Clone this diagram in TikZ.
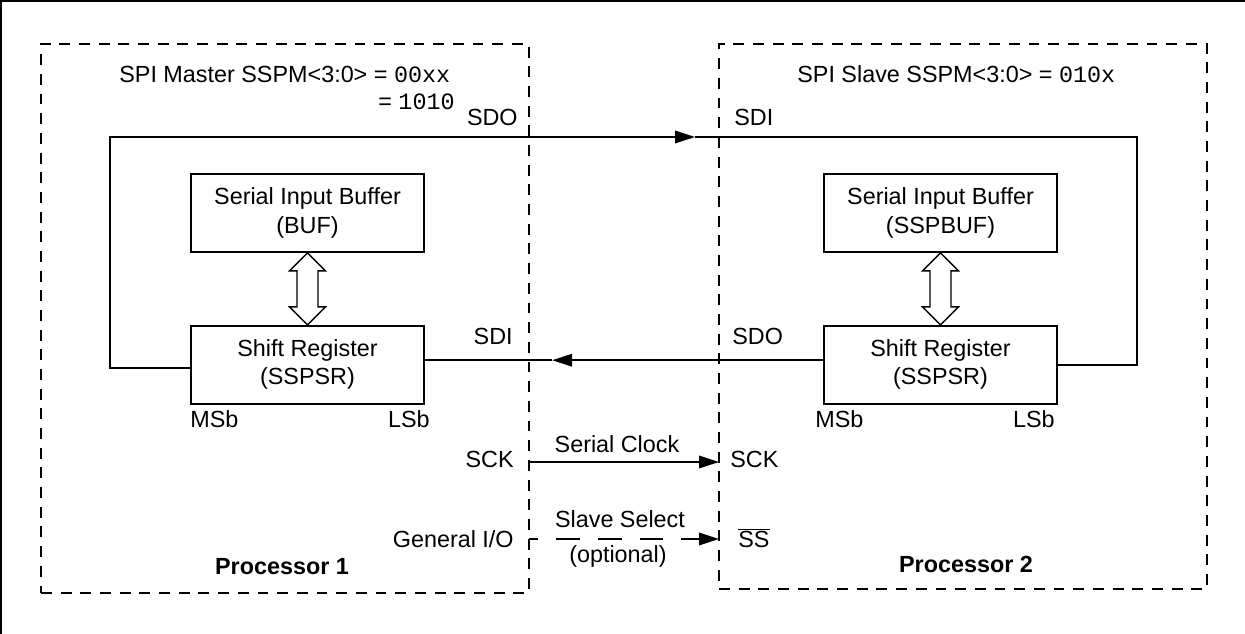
\documentclass[tikz,border=0pt]{standalone}
\usepackage{fontspec}
\setmainfont{Liberation Sans}
\setmonofont{Liberation Mono}
\usetikzlibrary{arrows.meta, positioning}

\begin{document}
\begin{tikzpicture}[
  x=0.02cm, y=-0.02cm,
  font=\fontsize{13.3}{16}\selectfont,
  box/.style={draw, line width=1pt, minimum width=4.66cm,
              minimum height=1.56cm, inner sep=0pt, align=center},
  proc/.style={draw, line width=1pt, dash pattern=on 6.2pt off 5pt,
               minimum width=9.76cm, inner sep=0pt},
  lbl/.style={inner sep=0pt},
  wire/.style={line width=1pt},
  arr/.style={line width=1pt, -{Triangle[length=0.4cm, width=0.25cm]}},
  dblarr/.style={line width=0.8pt, fill=white}
]
\useasboundingbox (0,0) rectangle (1245,634);
\draw[line width=2.5pt] (0,634) -- (0,0) -- (1245,0);

% processor frames
\node[proc, minimum height=10.98cm] (proc1) at (285,318.5) {};
\node[proc, minimum height=10.9cm]  (proc2) at (963,316.5) {};

% blocks
\node[box] (buf1) at (307.5,213) {Serial Input Buffer\\(BUF)};
\node[box, below=1.44cm of buf1] (sr1) {Shift Register\\(SSPSR)};
\node[box] (buf2) at (940.5,213) {Serial Input Buffer\\(SSPBUF)};
\node[box, below=1.44cm of buf2] (sr2) {Shift Register\\(SSPSR)};

\foreach \u/\v in {buf1/sr1, buf2/sr2}
  \draw[dblarr] (\u.south) -- ++(18,18) -- ++(-7.5,0) -- ++(0,36) -- ++(7.5,0)
    -- (\v.north) -- ++(-18,-18) -- ++(7.5,0) -- ++(0,-36) -- ++(-7.5,0) -- cycle;

% labels
\node[lbl, anchor=base west] (mtitle) at (119,83) {SPI Master SSPM<3:0> = \texttt{00xx}};
\node[lbl, anchor=base west] (mtitle2) at (378,110) {= \texttt{1010}};
\node[lbl, anchor=base west] (stitle) at (797,83) {SPI Slave SSPM<3:0> = \texttt{010x}};
\node[lbl, anchor=base east] (sdo1) at (518,126) {SDO};
\node[lbl, anchor=base west] (sdi2) at (734,126) {SDI};
\node[lbl, anchor=base east] (sdi1) at (513,345) {SDI};
\node[lbl, anchor=base west] (sdo2) at (732,345) {SDO};
\node[lbl, anchor=base west] (msb1) at (190,428) {MSb};
\node[lbl, anchor=base east] (lsb1) at (430,428) {LSb};
\node[lbl, anchor=base west] (msb2) at (815,428) {MSb};
\node[lbl, anchor=base east] (lsb2) at (1055,428) {LSb};
\node[lbl, anchor=base east] (sck1) at (514,468) {SCK};
\node[lbl, anchor=base west] (sck2) at (730,468) {SCK};
\node[lbl, anchor=base] (clk) at (617,453) {Serial Clock};
\node[lbl, anchor=base east] (gio) at (514,548) {General I/O};
\node[lbl, anchor=base] (sel) at (620,528) {Slave Select};
\node[lbl, anchor=base] (opt) at (618,563) {(optional)};
\node[lbl, anchor=base west] (ss2) at (738,548) {$\overline{\mbox{SS}}$};
\node[lbl, anchor=base] (p1) at (282,575) {\textbf{Processor 1}};
\node[lbl, anchor=base] (p2) at (966,573) {\textbf{Processor 2}};

% connections
\coordinate (loopL) at (110,137);
\coordinate (loopR) at (1137,137);
\coordinate (sdoTip) at (695,137);
\path ([yshift=0.09cm]sr2.west) ++(-271,0) coordinate (sdiTip);
\draw[arr] ([yshift=-0.06cm]sr1.west) -| (loopL) -- (sdoTip);
\draw[wire] (sdoTip) -- (loopR) |- (sr2.east);
\draw[arr] ([yshift=0.09cm]sr2.west) -- (sdiTip);
\draw[wire] (sdiTip) -- (sdiTip -| sr1.east);

\coordinate (sckM) at (529,462);
\coordinate (sckS) at (719,462);
\coordinate (ssM) at (529,539);
\coordinate (ssS) at (719,539);
\draw[arr] (sckM) -- (sckS);
\draw[arr, dash pattern=on 13.6pt off 10.2pt, dash phase=8.5pt] (ssM) -- (ssS);
\end{tikzpicture}
\end{document}
